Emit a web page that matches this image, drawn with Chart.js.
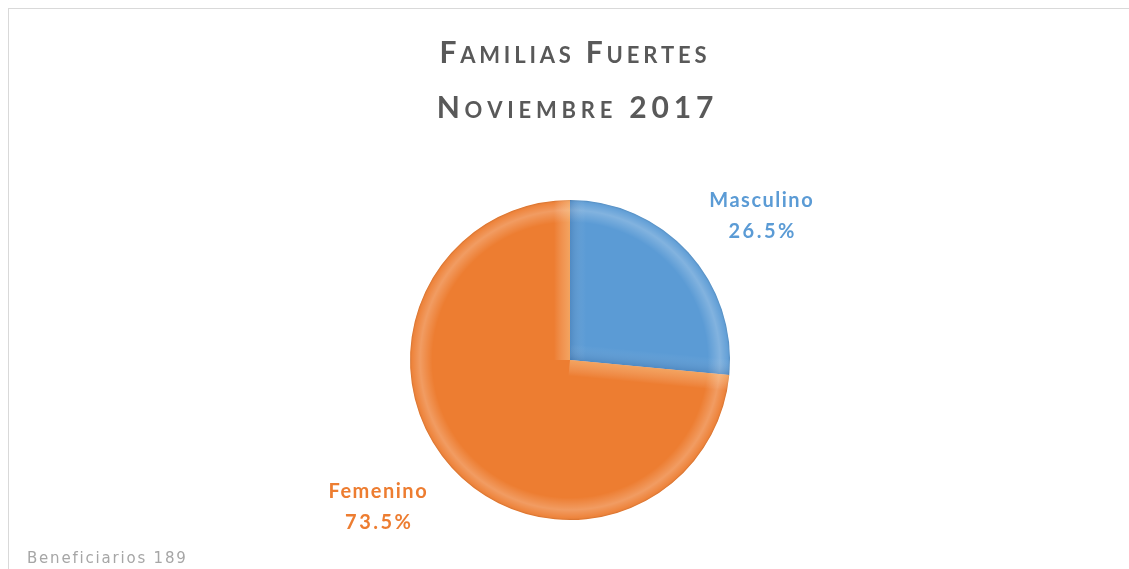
<!DOCTYPE html>
<html>
<head>
<meta charset="utf-8">
<script src="https://cdn.jsdelivr.net/npm/chart.js@4/dist/chart.umd.min.js"></script>
<style>
  html, body { margin: 0; padding: 0; background: #fff; overflow: hidden; }
  #frame { position: absolute; left: 8px; top: 8px; width: 1140px; height: 580px; border: 1px solid #d9d9d9; }
  #wrap { position: absolute; left: 0; top: 0; width: 1129px; height: 569px; }
</style>
</head>
<body>
<div id="frame"></div>
<div id="wrap"><canvas id="pieChart"></canvas></div>
<script>
const labels = ['Masculino', 'Femenino'];
const values = [26.5, 73.5];
const colors = ['#5B9BD5', '#ED7D31'];
const edgeTones = ['rgba(30,60,110,0.18)', 'rgba(255,235,180,0.35)'];
const titleLines = ['Familias Fuertes', 'Noviembre 2017'];
const footNote = 'Beneficiarios 189';

let chart;

// draws a line of text as small caps: capitals big, lower case letters as smaller capitals
function drawSmallCaps(ctx, text, cx, baseline, big, small, spacing) {
  const runs = [];
  for (const ch of text) {
    const isLower = ch !== ch.toUpperCase();
    runs.push({ t: ch.toUpperCase(), size: isLower ? small : big });
  }
  let total = 0;
  runs.forEach(r => {
    ctx.font = 'bold ' + r.size + 'px Lato';
    r.w = ctx.measureText(r.t).width + spacing;
    total += r.w;
  });
  total -= spacing;
  let x = cx - total / 2;
  ctx.textAlign = 'left';
  ctx.textBaseline = 'alphabetic';
  runs.forEach(r => {
    ctx.font = 'bold ' + r.size + 'px Lato';
    ctx.fillText(r.t, x, baseline);
    x += r.w;
  });
}

function edgeStrip(ctx, arc, angle, inward, w, tone) {
  const dx = Math.cos(angle), dy = Math.sin(angle);
  const nx = -dy * inward, ny = dx * inward;
  const R = arc.outerRadius;
  const g = ctx.createLinearGradient(arc.x, arc.y, arc.x + nx * w, arc.y + ny * w);
  g.addColorStop(0, tone);
  g.addColorStop(1, 'rgba(255,255,255,0)');
  ctx.beginPath();
  ctx.moveTo(arc.x, arc.y);
  ctx.lineTo(arc.x + dx * R, arc.y + dy * R);
  ctx.lineTo(arc.x + dx * R + nx * w, arc.y + dy * R + ny * w);
  ctx.lineTo(arc.x + nx * w, arc.y + ny * w);
  ctx.closePath();
  ctx.fillStyle = g;
  ctx.fill();
}

const decorations = {
  id: 'decorations',
  afterDatasetsDraw(c) {
    const ctx = c.ctx;
    const meta = c.getDatasetMeta(0);
    ctx.save();
    // bevel on each slice: rim highlight and edge shading
    meta.data.forEach((arc, i) => {
      const R = arc.outerRadius;
      ctx.save();
      ctx.beginPath();
      ctx.moveTo(arc.x, arc.y);
      ctx.arc(arc.x, arc.y, R, arc.startAngle, arc.endAngle);
      ctx.closePath();
      ctx.clip();
      const g = ctx.createRadialGradient(arc.x, arc.y, R * 0.86, arc.x, arc.y, R);
      g.addColorStop(0, 'rgba(255,255,255,0)');
      g.addColorStop(0.55, 'rgba(255,255,255,0.24)');
      g.addColorStop(0.9, 'rgba(255,255,255,0.06)');
      g.addColorStop(1, 'rgba(0,0,0,0.12)');
      ctx.beginPath();
      ctx.arc(arc.x, arc.y, R, 0, Math.PI * 2);
      ctx.arc(arc.x, arc.y, R * 0.86, Math.PI * 2, 0, true);
      ctx.fillStyle = g;
      ctx.fill();
      edgeStrip(ctx, arc, arc.startAngle, 1, 16, edgeTones[i]);
      edgeStrip(ctx, arc, arc.endAngle, -1, 16, edgeTones[i]);
      ctx.restore();
    });

    // slice labels
    ctx.textAlign = 'center';
    ctx.textBaseline = 'middle';
    meta.data.forEach((arc, i) => {
      const mid = (arc.startAngle + arc.endAngle) / 2;
      const x = arc.x + Math.cos(mid) * arc.outerRadius * 1.62;
      const y = arc.y + Math.sin(mid) * arc.outerRadius * 1.35;
      ctx.fillStyle = colors[i];
      ctx.font = 'bold 20px Lato';
      ctx.letterSpacing = '1.5px';
      ctx.fillText(labels[i], x, y - 14);
      ctx.letterSpacing = '2.5px';
      ctx.fillText(values[i].toFixed(1) + '%', x + 1, y + 17);
    });
    ctx.letterSpacing = '0px';

    // title
    ctx.fillStyle = '#595959';
    drawSmallCaps(ctx, titleLines[0], 573, 63, 30, 22, 3.8);
    drawSmallCaps(ctx, titleLines[1], 575, 118, 30, 22, 4.8);

    // footnote
    ctx.font = '15px "DejaVu Sans"';
    ctx.letterSpacing = '1.8px';
    ctx.fillStyle = '#a6a6a6';
    ctx.textAlign = 'left';
    ctx.textBaseline = 'alphabetic';
    ctx.fillText(footNote, 27, 563);
    ctx.restore();
  }
};

const ctx = document.getElementById('pieChart');
chart = new Chart(ctx, {
  type: 'pie',
  data: {
    labels: labels,
    datasets: [{
      data: values,
      backgroundColor: colors,
      borderWidth: 0
    }]
  },
  options: {
    responsive: true,
    maintainAspectRatio: false,
    animation: false,
    layout: {
      padding: { left: 11, top: 200, bottom: 49 }
    },
    plugins: {
      legend: { display: false },
      tooltip: { enabled: false },
      title: { display: false }
    }
  },
  plugins: [decorations]
});
</script>
</body>
</html>
